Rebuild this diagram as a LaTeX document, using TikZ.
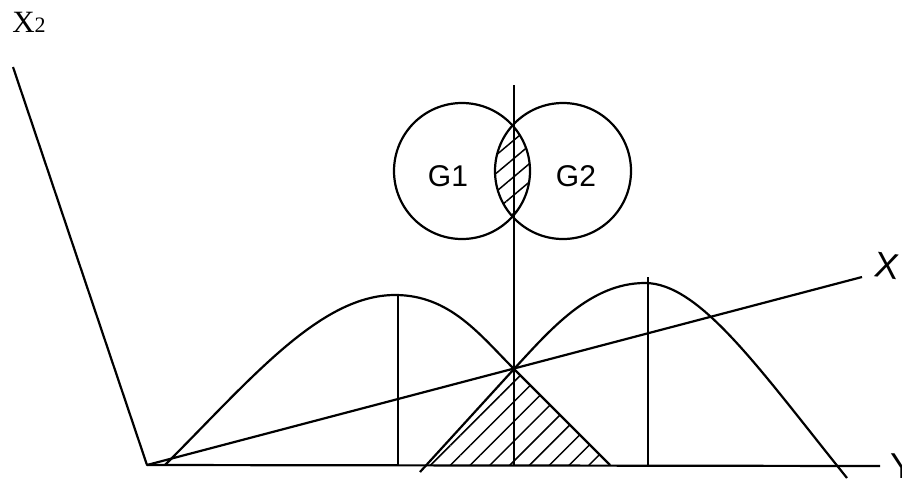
\documentclass[tikz,border=0pt]{standalone}
\usepackage{fontspec}
\setmainfont{Liberation Serif}
\newfontfamily\handfont{Liberation Sans}
\usetikzlibrary{patterns.meta}

\begin{document}
\begin{tikzpicture}[
    x=1pt, y=-1pt,
    curve/.style={line width=2.2pt, line join=round},
    guide/.style={line width=2pt},
    hatch/.style={pattern={Lines[angle=#1, distance=14pt, line width=1.5pt]}},
    hatch/.default=45,
    hand/.style={font=\handfont\fontsize{#1}{#1}\selectfont},
    hand/.default=30,
]
    \useasboundingbox (0,0) rectangle (902,480);

    % Axes
    \coordinate (O) at (147,465);
    \coordinate (x2end) at (13,67);
    \coordinate (yend) at (880,466);
    \coordinate (xend) at (862,277);
    \coordinate (P) at (514,369);
    \draw[curve] (x2end) -- (O) -- (yend);
    \draw[curve] (O) -- (xend);
    \node[font=\fontsize{31}{34}\selectfont] (x2lbl) at (29,22) {X{\fontsize{22}{24}\selectfont 2}};
    \node[hand=36, rotate=-8] (xlbl) at (887,266) {X};
    \node[hand=36] (ylbl) at (902,466) {Y};

    % Hatched overlap under the curves
    \fill[hatch] (427,465) -- (P) -- (610,465) -- cycle;

    % Two curves
    \draw[curve] (165,465) .. controls (250,380) and (320,295) .. (395,295)
        .. controls (450,295) and (480,335) .. (P) -- (610,465);
    \draw[curve] (420,472) -- (P) .. controls (550,330) and (590,283) .. (645,283)
        .. controls (700,283) and (760,370) .. (847,478);

    % Verticals
    \draw[guide] (398,295) -- (398,465);
    \draw[guide] (648,277) -- (648,465);
    \draw[guide] (514,85) -- (P) -- (514,465);

    % Groups
    \coordinate (g1) at (462,171);
    \coordinate (g2) at (563,171);
    \begin{scope}
        \clip (g1) circle (68);
        \fill[hatch=40] (g2) circle (68);
    \end{scope}
    \draw[curve] (g1) circle (68);
    \draw[curve] (g2) circle (68);
    \node[hand] (g1lbl) at (448,176) {G1};
    \node[hand] (g2lbl) at (576,176) {G2};

\end{tikzpicture}
\end{document}
